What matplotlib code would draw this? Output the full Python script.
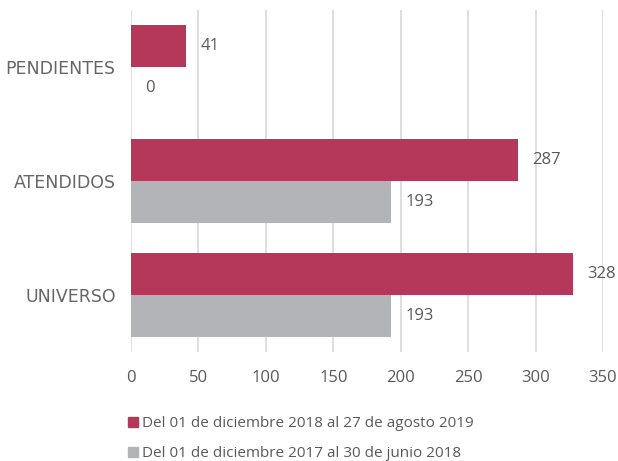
import matplotlib.pyplot as plt
import matplotlib.lines as mlines
import numpy as np

categories = ['UNIVERSO', 'ATENDIDOS', 'PENDIENTES']
serie_2019 = [328, 287, 41]
serie_2018 = [193, 193, 0]
label_2019 = 'Del 01 de diciembre 2018 al 27 de agosto 2019'
label_2018 = 'Del 01 de diciembre 2017 al 30 de junio 2018'

red = '#B5385B'
grey = '#B2B4B7'
txt = '#595959'

plt.rcParams['font.family'] = ['Open Sans', 'DejaVu Sans']

fig = plt.figure(figsize=(6.18, 4.61), dpi=100)
ax = fig.add_axes([131 / 618, 1 - 352 / 461, 472 / 618, 342 / 461])

y = np.arange(len(categories))
h = 0.368
ax.barh(y + h / 2, serie_2019, height=h, color=red, zorder=3)
ax.barh(y - h / 2, serie_2018, height=h, color=grey, zorder=3)

for yi, v in zip(y, serie_2019):
    ax.annotate(str(v), (v, yi + h / 2), xytext=(10, 0), textcoords='offset points',
                va='center', ha='left', fontsize=12, color=txt)
for yi, v in zip(y, serie_2018):
    ax.annotate(str(v), (v, yi - h / 2), xytext=(10, 0), textcoords='offset points',
                va='center', ha='left', fontsize=12, color=txt)

ax.set_xlim(0, 350)
ax.set_ylim(-0.5, 2.5)
ax.set_xticks(range(0, 351, 50))
ax.set_yticks(y)
ax.set_yticklabels(categories, family='DejaVu Sans', fontsize=12.5)
ax.grid(axis='x', color='#D9D9D9', linewidth=1.2, zorder=0)
ax.tick_params(axis='both', length=0, colors=txt)
ax.tick_params(axis='x', pad=13, labelsize=12)
ax.tick_params(axis='y', pad=11, labelcolor='#666666')
for s in ax.spines.values():
    s.set_visible(False)

handles = [
    mlines.Line2D([], [], color=red, marker='s', linestyle='None', markersize=7, label=label_2019),
    mlines.Line2D([], [], color=grey, marker='s', linestyle='None', markersize=7, label=label_2018),
]
leg = fig.legend(handles=handles, loc='upper left', bbox_to_anchor=(122 / 618, 1 - 410 / 461),
                 frameon=False, fontsize=11, handlelength=0.6, handletextpad=0.3,
                 labelspacing=1.0, borderaxespad=0)
for t in leg.get_texts():
    t.set_color(txt)

fig.savefig('out.png', dpi=100)
